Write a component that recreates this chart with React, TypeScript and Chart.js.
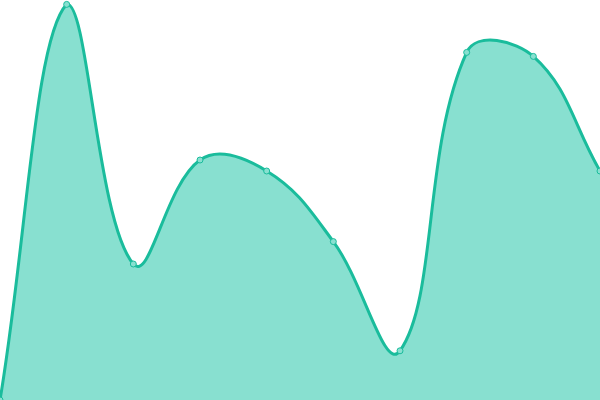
import { useEffect, useRef } from 'react';
import { Chart, registerables } from 'chart.js';

Chart.register(...registerables);

const labels = ['1', '2', '3', '4', '5', '6', '7', '8', '9', '10'];
const values = [0, 98.9, 34, 60, 57.25, 39.6, 12.3, 86.9, 85.9, 57.25];

export default function App() {
  const canvasRef = useRef<HTMLCanvasElement>(null);
  const chartRef = useRef<Chart | null>(null);

  useEffect(() => {
    if (chartRef.current) chartRef.current.destroy();

    chartRef.current = new Chart(canvasRef.current!, {
      type: 'line',
      data: {
        labels,
        datasets: [{
          data: values,
          fill: true,
          tension: 0.4,
          backgroundColor: '#88e0d0',
          borderColor: '#1abc9c',
          borderWidth: 3,
          pointRadius: 3,
          pointBorderWidth: 1,
          pointBackgroundColor: '#88e0d0',
          pointBorderColor: '#1abc9c',
        }],
      },
      options: {
        animation: false,
        responsive: true,
        maintainAspectRatio: false,
        layout: { autoPadding: false, padding: 0 },
        scales: {
          x: { display: false, offset: false },
          y: { display: false, min: 0, max: 100 },
        },
        plugins: {
          legend: { display: false },
          tooltip: { enabled: false },
        },
      },
    });

    return () => { if (chartRef.current) chartRef.current.destroy(); };
  }, []);

  return (
    <div style={{ position: 'fixed', left: 0, top: 0, width: 600, height: 400 }}>
      <canvas ref={canvasRef} />
    </div>
  );
}
